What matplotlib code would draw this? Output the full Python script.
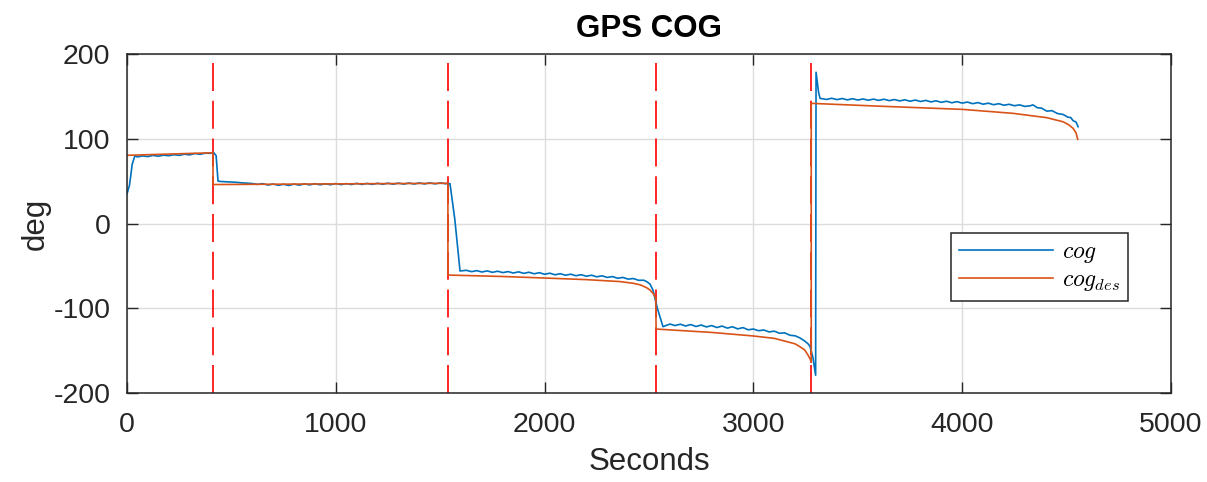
import matplotlib
matplotlib.use("Agg")
import matplotlib.pyplot as plt
import numpy as np

plt.rcParams['font.family'] = ['Liberation Sans', 'DejaVu Sans']
plt.rcParams['mathtext.fontset'] = 'cm'
plt.rcParams['axes.unicode_minus'] = False

# measured course over ground, split at the waypoint switches
cog_t1 = [0, 12, 25, 38, 50, 75, 100, 125, 150, 175, 200, 225, 250, 275, 300, 325, 350, 375, 400, 415, 427, 436]
cog_v1 = [35, 45, 70, 80, 78.6, 79.8, 79.0, 80.4, 79.4, 80.7, 80.0, 81.2, 80.4, 81.8, 81.0, 82.6, 81.7, 83.0, 82.8, 83.8, 80, 50]

cog_t2 = [450, 475, 500, 525, 550, 575, 600, 625, 650, 675, 700, 725, 750, 775, 800, 825, 850, 875, 900, 925,
          950, 975, 1000, 1025, 1050, 1075, 1100, 1125, 1150, 1175, 1200, 1225, 1250, 1275, 1300, 1325, 1350,
          1375, 1400, 1425, 1450, 1475, 1500, 1525, 1547]
cog_v2 = [49.6, 49.3, 48.9, 48.6, 48.0, 47.6, 47.2, 46.2, 47.1, 45.4, 46.6, 45.1, 46.3, 44.9, 46.5, 45.3, 46.8,
          45.6, 47.0, 45.7, 46.9, 45.8, 47.2, 45.9, 47.1, 46.0, 47.4, 46.1, 47.3, 46.2, 47.5, 46.3, 47.6, 46.4,
          47.7, 46.5, 47.8, 46.6, 47.9, 46.7, 48.0, 46.8, 47.9, 47.0, 47.0]

cog_t3 = [1570, 1595, 1625, 1650, 1675, 1700, 1725, 1750, 1775, 1800, 1825, 1850, 1875, 1900, 1925, 1950, 1975,
          2000, 2025, 2050, 2075, 2100, 2125, 2150, 2175, 2200, 2225, 2250, 2275, 2300, 2325, 2350, 2375, 2400,
          2425, 2450, 2475, 2490, 2505, 2519, 2540, 2567]
cog_v3 = [5, -56, -55.2, -56.8, -55.6, -57.2, -55.9, -57.6, -56.3, -57.9, -56.7, -58.4, -57.0, -58.8, -57.5, -59.3,
          -58.0, -59.9, -58.6, -60.5, -59.2, -61.0, -59.8, -61.6, -60.4, -62.2, -61.0, -62.9, -61.7, -63.6, -62.6,
          -64.6, -63.6, -65.6, -64.9, -67.0, -66.9, -68.7, -71.5, -78.5, -100, -121.7]

cog_t4 = [2590, 2600, 2625, 2650, 2675, 2700, 2725, 2750, 2775, 2800, 2825, 2850, 2875, 2900, 2925, 2950, 2975,
          3000, 3025, 3050, 3075, 3100, 3125, 3150, 3175, 3200, 3223, 3245, 3262, 3271, 3285, 3298]
cog_v4 = [-119.5, -118.6, -120.4, -118.8, -120.9, -119.2, -121.5, -119.8, -122.0, -120.4, -122.7, -121.0, -123.4,
          -121.8, -124.3, -122.8, -125.4, -124.5, -126.5, -125.6, -127.9, -127.0, -129.5, -129.0, -131.8, -132.5,
          -135.0, -138.5, -142.0, -145.0, -158.0, -179.0]

cog_t5 = [3300, 3312, 3319, 3350, 3375, 3400, 3425, 3450, 3475, 3500, 3525, 3550, 3575, 3600, 3625, 3650, 3675,
          3700, 3725, 3750, 3775, 3800, 3825, 3850, 3875, 3900, 3925, 3950, 3975, 4000, 4025, 4050, 4075, 4100,
          4125, 4150, 4175, 4200, 4225, 4250, 4275, 4300, 4325, 4339, 4360, 4380, 4405, 4430, 4455, 4484, 4505,
          4520, 4531, 4545, 4555]
cog_v5 = [178.5, 155, 147.7, 146.4, 147.8, 146.2, 147.5, 145.9, 147.3, 145.7, 147.0, 145.5, 146.8, 145.3, 146.7,
          145.0, 146.3, 144.7, 146.0, 144.3, 145.7, 144.0, 145.3, 143.5, 144.8, 143.0, 144.3, 142.5, 143.8, 142.1,
          143.3, 141.4, 142.7, 140.8, 142.0, 140.2, 141.4, 139.6, 140.7, 139.0, 140.0, 138.2, 138.9, 140.0, 136.6,
          136.2, 132.6, 133.2, 129.9, 128.6, 125.6, 125.0, 121.3, 119.8, 114.2]

# desired course (guidance output)
des_t = [0, 412, 412, 1537, 1537, 1800, 2000, 2200, 2361, 2424, 2460, 2489, 2505, 2521, 2532,
         2534, 2800, 3000, 3100, 3161, 3200, 3223, 3245, 3261, 3272, 3277,
         3277, 3600, 4000, 4244, 4405, 4484, 4510, 4531, 4545, 4553]
des_v = [80.5, 83.5, 46.0, 47.5, -60.8, -62.5, -64.3, -66.2, -68.5, -70.5, -72.5, -75.8, -78.5, -83, -87.5,
         -124.5, -128.5, -132.7, -135.5, -139.4, -142, -145.4, -149, -155, -160, -164,
         141.8, 138.5, 134.7, 130, 124.9, 120, 116.5, 112.3, 107, 99.4]

# waypoint switch times
switch_t = [412, 1537, 2534, 3277]

cog_t = cog_t1 + cog_t2 + cog_t3 + cog_t4 + cog_t5
cog_v = cog_v1 + cog_v2 + cog_v3 + cog_v4 + cog_v5

fig = plt.figure(figsize=(12.07, 4.82), dpi=100)
ax = fig.add_axes([0.1052, 0.1846, 0.865, 0.7033])

dark = '#262626'
for ts in switch_t:
    ax.plot([ts, ts], [-200, 190], color='r', lw=1.2, dashes=(16.8, 5.85))
l1, = ax.plot(cog_t, cog_v, color='#0072BD', lw=1.2)
l2, = ax.plot(des_t, des_v, color='#D95319', lw=1.2)

ax.set_xlim(0, 5000)
ax.set_ylim(-200, 200)
ax.set_xticks([0, 1000, 2000, 3000, 4000, 5000])
ax.set_yticks([-200, -100, 0, 100, 200])
ax.grid(True, color='#dcdcdc', lw=1.0)
ax.set_axisbelow(True)
ax.tick_params(direction='in', length=8, width=1.0, colors=dark, labelsize=20.5,
               top=True, right=True)
ax.tick_params(axis='x', pad=14)
ax.tick_params(axis='y', pad=12)
for s in ax.spines.values():
    s.set_color(dark)
    s.set_linewidth(1.1)

ax.set_xlabel('Seconds', fontsize=22.5, color=dark, labelpad=6)
ax.set_ylabel('deg', fontsize=22.5, color=dark, labelpad=2)
ax.set_title('GPS COG', fontsize=22.5, fontweight='bold', pad=12)

leg = ax.legend([l1, l2], [r'$cog$', r'$cog_{des}$'], loc='upper left',
                bbox_to_anchor=(0.789, 0.472), borderaxespad=0, fontsize=17,
                handlelength=4.0, fancybox=False, framealpha=1, edgecolor=dark,
                borderpad=0.35, labelspacing=0.15, handletextpad=0.35)
leg.get_frame().set_linewidth(1.1)

fig.savefig('out.png', dpi=100)
